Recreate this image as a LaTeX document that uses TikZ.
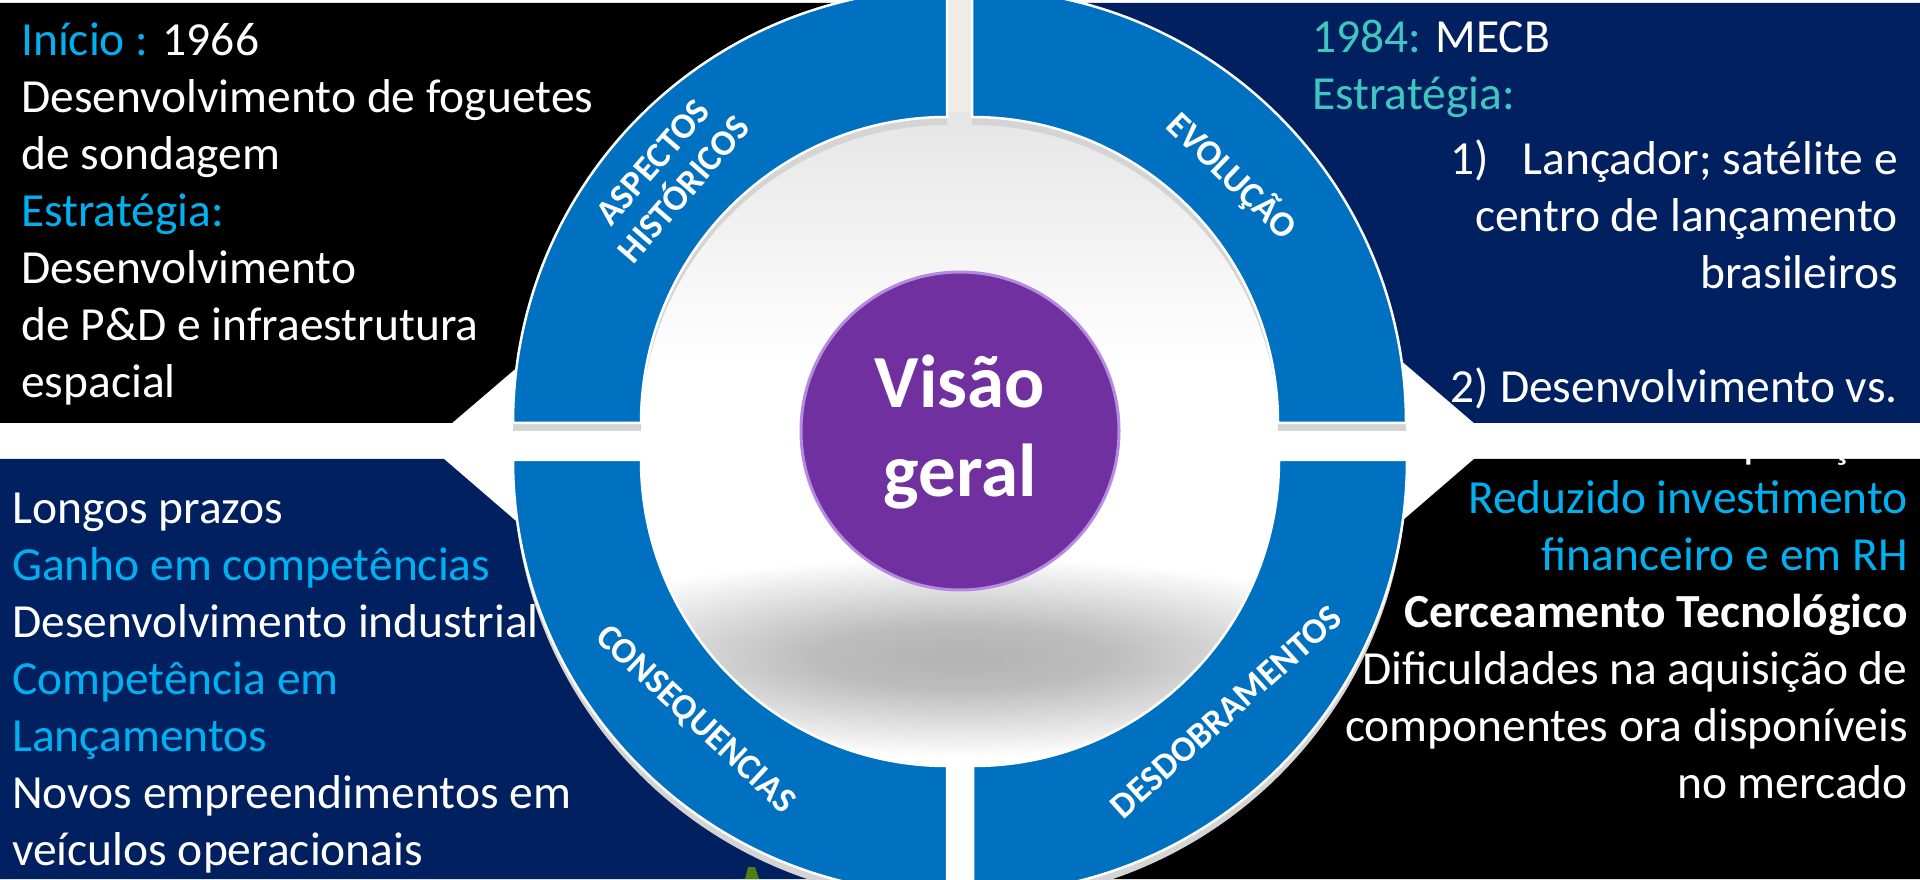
\documentclass[tikz,border=0pt]{standalone}
\usepackage{fontspec}
\setmainfont{Carlito}
\usetikzlibrary{calc}

\definecolor{navyblue}{HTML}{002060}
\definecolor{ringblue}{HTML}{0070C0}
\definecolor{cyantext}{HTML}{00B0F0}
\definecolor{tealtext}{HTML}{40C6C0}
\definecolor{ballpurple}{HTML}{7030A0}
\definecolor{balllight}{HTML}{B58AE0}
\definecolor{gapbeige}{HTML}{EFEBE7}
\definecolor{greenbit}{HTML}{4F7F12}

\newcommand{\bodyfont}{\fontsize{47.5}{57}\selectfont}
\newcommand{\labelfont}{\fontsize{36}{41}\selectfont\bfseries}
\newcommand{\ballfont}{\fontsize{75}{89}\selectfont\bfseries}

\pgfdeclareradialshading{blurshadow}{\pgfpoint{0bp}{0bp}}{color(0bp)=(black!30); color(8bp)=(black!26); color(25bp)=(white); color(50bp)=(white)}
\pgfdeclareverticalshading{discfade}{100bp}{color(0bp)=(white); color(56bp)=(white); color(100bp)=(black!23)}

\begin{document}
\begin{tikzpicture}
[x=1pt,y=1pt,
  paneldecorate/.style={draw=none},%
  ringdecorate/.style={fill=ringblue,draw=white,line width=2.5pt},%
  ringshadow/.style={fill=black!17},%
  labeldecorate/.style={text=white,font=\labelfont,align=center,inner sep=0pt},%
  bodydecorate/.style={text=white,font=\bodyfont,inner sep=0pt},%
  balldecorate/.style={shape=circle,minimum size=318pt,inner sep=0pt,
    fill=ballpurple,draw=balllight,line width=3pt},%
  balltext/.style={text=white,font=\ballfont,align=center,inner sep=0pt}]
\useasboundingbox (0,0) rectangle (1920,879);
%% background panels
\fill[paneldecorate,black] (0,876) -- (943,876) -- (452,456) -- (0,456) -- cycle;
\fill[paneldecorate,navyblue] (1920,876) -- (983,876) -- (1474,456) -- (1920,456) -- cycle;
\fill[paneldecorate,navyblue] (0,420) -- (444,420) -- (931,0) -- (0,0) -- cycle;
\fill[paneldecorate,black] (1920,420) -- (1474,420) -- (987,0) -- (1920,0) -- cycle;
\fill[gapbeige] (940,879) rectangle (980,750);
%% inner disc and shadow of the ball
\shade[shading=discfade] (959.5,437.5) circle (330);
\begin{scope}
  \clip (959.5,437.5) circle (330);
  \shade[shading=blurshadow] (960,222) ellipse (460 and 100);
\end{scope}
%% ring quarters
\foreach \cx/\cy/\a in {947/456/90, 972/456/0, 947/419/180, 973/419/270}
{
  \fill[ringshadow] (\cx,\cy-8) ++(\a:434) arc[start angle=\a,delta angle=90,radius=434]
    -- ++(\a+90:-128) arc[start angle=\a+90,delta angle=-90,radius=306] -- cycle;
  \filldraw[ringdecorate] (\cx,\cy) ++(\a:434) arc[start angle=\a,delta angle=90,radius=434]
    -- ++(\a+90:-128) arc[start angle=\a+90,delta angle=-90,radius=306] -- cycle;
}
\fill[greenbit] (748,12) -- (755,12) -- (759,0) -- (745,0) -- cycle;
%% ring labels
\node[labeldecorate,rotate=49] (aspectos) at (668,703) {ASPECTOS\\HISTÓRICOS};
\node[labeldecorate,rotate=-44] (evolucao) at (1232,703) {EVOLUÇÃO};
\node[labeldecorate,rotate=-43] (consequencias) at (695,159) {CONSEQUENCIAS};
\node[labeldecorate,rotate=42] (desdobramentos) at (1226,167) {DESDOBRAMENTOS};
%% centre ball
\node[balldecorate] (visao) at (960,448) {};
\node[balltext,anchor=base] (visaolabel) at (960,382) {Visão\\geral};
%% panel texts (anchored at the last baseline)
\node[bodydecorate,anchor=base west,align=left] (historia) at (21,481)
  {{\color{cyantext}Início :} 1966\\
   Desenvolvimento de foguetes\\
   de sondagem\\
   {\color{cyantext}Estratégia:}\\
   Desenvolvimento\\
   de P\&D e infraestrutura\\
   espacial};
\node[bodydecorate,anchor=base west,align=left] (evohead) at (1312,769)
  {{\color{tealtext}1984:} MECB\\
   {\color{tealtext}Estratégia:}};
\node[bodydecorate,anchor=base east,align=right] (evolist) at (1898,421)
  {1)\hspace{34pt}Lançador; satélite e\\
   centro de lançamento\\
   brasileiros\\
   \mbox{}\\
   2) Desenvolvimento vs.\\[-2pt]
   operação};
\node[bodydecorate,anchor=base west,align=left] (ganhos) at (12,14)
  {Longos prazos\\
   {\color{cyantext}Ganho em competências}\\
   Desenvolvimento industrial\\
   {\color{cyantext}Competência em}\\
   {\color{cyantext}Lançamentos}\\
   Novos empreendimentos em\\
   veículos operacionais};
\node[bodydecorate,anchor=base east,align=right] (entraves) at (1908,81)
  {{\color{cyantext}Reduzido investimento}\\
   {\color{cyantext}financeiro e em RH}\\
   \textbf{Cerceamento Tecnológico}\\
   Dificuldades na aquisição de\\
   componentes ora disponíveis\\
   no mercado};
\end{tikzpicture}
\end{document}
